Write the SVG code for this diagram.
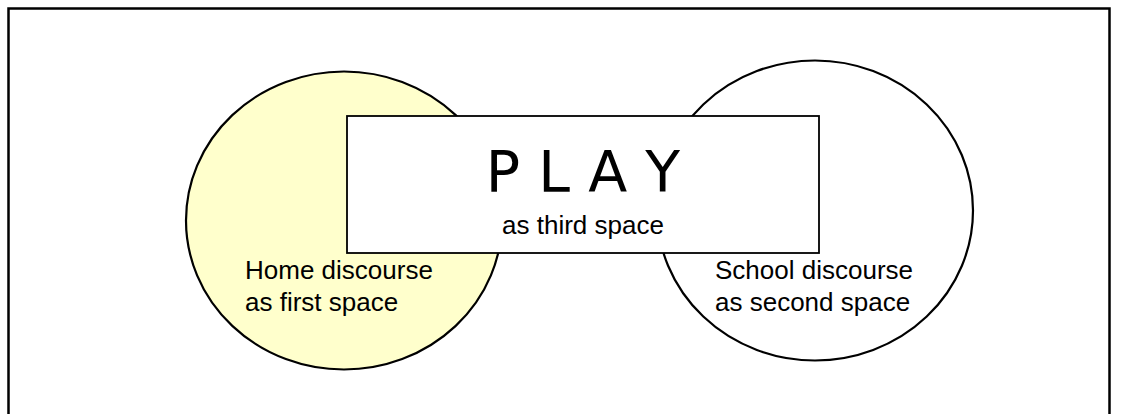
<svg xmlns="http://www.w3.org/2000/svg" width="1121" height="414" viewBox="0 0 1121 414">
  <style>
    .frame { fill: #FFFFFF; stroke: #000000; stroke-width: 2.5; }
    .space { stroke: #000000; stroke-width: 2.2; }
    .box { fill: #FFFFFF; stroke: #000000; stroke-width: 1.8; }
    .lbl { font-family: "Liberation Sans", Arial, sans-serif; font-size: 26px; fill: #000000; }
    .title { font-family: "Comic Sans MS", "DejaVu Sans", sans-serif; font-size: 57px; fill: #000000; }
  </style>
  <rect class="frame" x="8.5" y="8.5" width="1101" height="430"/>
  <g id="home">
    <ellipse class="space" cx="344" cy="220.5" rx="158" ry="149" fill="#FFFFCC"/>
    <text class="lbl" x="245" y="279">Home discourse</text>
    <text class="lbl" x="245" y="311">as first space</text>
  </g>
  <g id="school">
    <ellipse class="space" cx="815" cy="210.5" rx="158" ry="150" fill="#FFFFFF"/>
    <text class="lbl" x="715" y="279">School discourse</text>
    <text class="lbl" x="715" y="311">as second space</text>
  </g>
  <g id="play">
    <rect class="box" x="347" y="116" width="472" height="137"/>
    <text class="title" x="583" y="192" text-anchor="middle">P L A Y</text>
    <text class="lbl" x="583" y="234" text-anchor="middle">as third space</text>
  </g>
  <g id="connectors"/>
</svg>
